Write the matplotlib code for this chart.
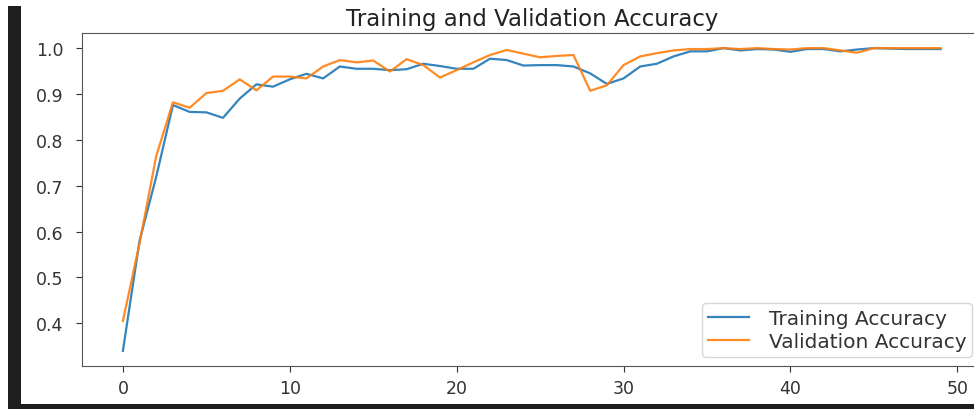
import matplotlib
matplotlib.use("Agg")
import matplotlib.pyplot as plt
from matplotlib.patches import Rectangle
import numpy as np

epochs = list(range(50))
train_acc = [0.340, 0.580, 0.720, 0.876, 0.861, 0.860, 0.848, 0.890, 0.921, 0.916,
             0.932, 0.944, 0.934, 0.960, 0.955, 0.955, 0.952, 0.954, 0.966, 0.961,
             0.955, 0.955, 0.977, 0.974, 0.962, 0.963, 0.963, 0.960, 0.945, 0.922,
             0.934, 0.960, 0.966, 0.982, 0.993, 0.993, 1.000, 0.995, 0.998, 0.997,
             0.992, 0.998, 0.998, 0.993, 0.997, 1.000, 0.999, 0.998, 0.998, 0.998]
val_acc = [0.405, 0.575, 0.765, 0.882, 0.870, 0.902, 0.907, 0.932, 0.908, 0.938,
           0.938, 0.934, 0.960, 0.974, 0.969, 0.973, 0.949, 0.976, 0.963, 0.936,
           0.952, 0.969, 0.985, 0.996, 0.988, 0.980, 0.983, 0.985, 0.907, 0.919,
           0.963, 0.982, 0.989, 0.995, 0.998, 0.998, 1.000, 0.998, 1.000, 0.998,
           0.997, 1.000, 1.000, 0.995, 0.990, 1.000, 1.000, 1.000, 1.000, 1.000]
title = "Training and Validation Accuracy"
labels = ["Training Accuracy", "Validation Accuracy"]

W, H = 974, 410
fig = plt.figure(figsize=(W / 100, H / 100), dpi=100)
ax = fig.add_axes([82 / W, (H - 367) / H, 899.5 / W, 333 / H])

ax.plot(epochs, train_acc, color="#1f77b4", lw=1.6, alpha=0.9, label=labels[0])
ax.plot(epochs, val_acc, color="#ff7f0e", lw=1.6, alpha=0.9, label=labels[1])
ax.set_xlim(-2.45, 51.45)
ax.set_ylim(0.307, 1.033)
ax.set_xticks([0, 10, 20, 30, 40, 50])
ax.set_yticks([0.4, 0.5, 0.6, 0.7, 0.8, 0.9, 1.0])
ax.tick_params(labelsize=12.5, colors="#333333", length=4.5)
ax.tick_params(axis="y", pad=9)
ax.tick_params(axis="x", pad=5)
for s in ax.spines.values():
    s.set_color("#555555")
ax.set_title(title, fontsize=16.5, color="#222222", pad=6)
leg = ax.legend(loc="lower right", fontsize=14.5, borderaxespad=0.45,
                labelspacing=0.2, borderpad=0.3, handletextpad=1.0)
for t in leg.get_texts():
    t.set_color("#333333")

# screenshot frame: dark strip on the left and dark line at the bottom
fig.patches.append(Rectangle((8, 0), 13, H - 7, transform=None,
                             facecolor="#1e1e1e", edgecolor="none", zorder=10))
fig.patches.append(Rectangle((8, 0), W - 8, 5, transform=None,
                             facecolor="#1e1e1e", edgecolor="none", zorder=10))

fig.savefig("out.png", dpi=100)
